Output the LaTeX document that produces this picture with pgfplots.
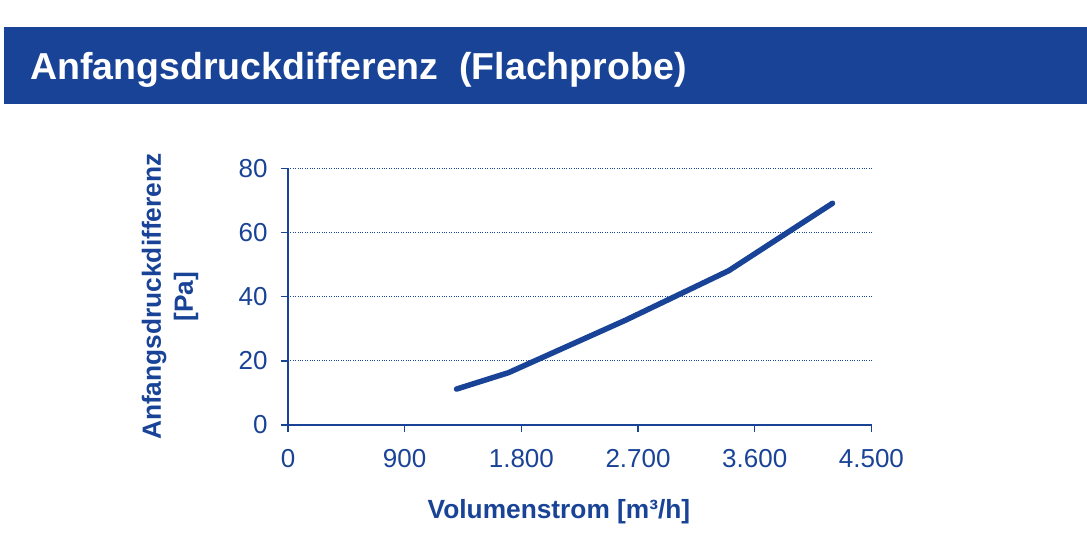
\documentclass[border=0pt]{standalone}
\usepackage{fontspec}
\setmainfont{Liberation Sans}
\usepackage{pgfplots}
\pgfplotsset{compat=1.18}
\definecolor{myblue}{RGB}{25,67,150}
\begin{document}
\begin{tikzpicture}
\useasboundingbox (0pt,0pt) rectangle (1087pt,-533pt);
\fill[myblue] (4pt,-27pt) rectangle (1087pt,-104pt);
\node[anchor=base west, text=white, font=\fontsize{37.5}{40}\selectfont\bfseries, inner sep=0pt] at (30pt,-79pt) {Anfangsdruckdifferenz\ \ (Flachprobe)};
\begin{axis}[
  at={(288pt,-425pt)}, anchor=south west,
  scale only axis, width=583.4pt, height=256.7pt,
  xmin=0, xmax=4500, ymin=0, ymax=80,
  xtick={0,900,1800,2700,3600,4500},
  ytick={0,20,40,60,80},
  axis lines*=left,
  axis line style={myblue, line width=1.8pt},
  tick style={myblue, line width=1.4pt},
  tick align=outside, major tick length=7pt,
  ymajorgrids,
  grid style={myblue, dotted, line width=1.1pt},
  ticklabel style={font=\fontsize{26}{26}\selectfont, text=myblue},
  xticklabel style={yshift=-14pt},
  yticklabel style={xshift=-10pt},
  /pgf/number format/assume math mode=true,
  /pgf/number format/1000 sep={.},
  xlabel={Volumenstrom [m³/h]},
  xlabel style={at={(axis description cs:0.4645,-0.366)}, anchor=base, font=\fontsize{26.3}{30}\selectfont\bfseries, text=myblue},
  ylabel={Anfangsdruckdifferenz\\{}[Pa]},
  ylabel style={at={(axis description cs:-0.2023,0.5)}, anchor=center, align=center, font=\fontsize{26.3}{32}\selectfont\bfseries, text=myblue},
]
\addplot[myblue, line width=5.5pt, line cap=round, line join=round] coordinates {
  (1300,11.2) (1700,16.3) (2600,32.6) (3400,48.1) (4200,69.1)
};
\end{axis}
\end{tikzpicture}
\end{document}
